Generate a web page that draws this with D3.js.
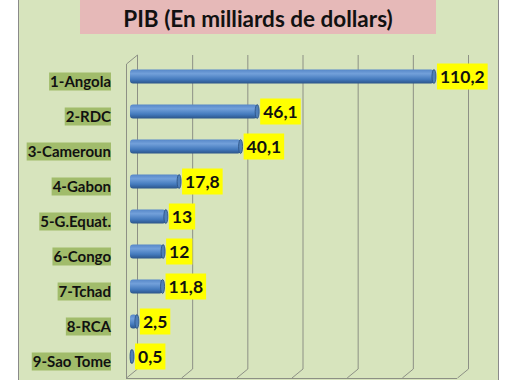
<!DOCTYPE html>
<html>
<head>
    <title>PIB CEMAC</title>
    <script src="https://cdnjs.cloudflare.com/ajax/libs/d3/7.8.5/d3.min.js"></script>
    <style>
        body { margin: 0; background: white; }
        svg { display: block; }
        text { font-family: Lato, "Open Sans", sans-serif; font-weight: bold; }
    </style>
</head>
<body>
    <svg id="chart"></svg>

    <script>
        const width = 514;
        const height = 380;

        // data
        const countries = ["1-Angola", "2-RDC", "3-Cameroun", "4-Gabon", "5-G.Equat.",
                           "6-Congo", "7-Tchad", "8-RCA", "9-Sao Tome"];
        const pib = [110.2, 46.1, 40.1, 17.8, 13, 12, 11.8, 2.5, 0.5];
        const pibLabels = ["110,2", "46,1", "40,1", "17,8", "13", "12", "11,8", "2,5", "0,5"];
        const gridTicks = [0, 20, 40, 60, 80, 100, 120];
        const title = "PIB (En milliards de dollars)";

        const svg = d3.select("#chart")
            .attr("width", width)
            .attr("height", height);

        // chart area
        svg.append("rect")
            .attr("x", 18.5).attr("y", -5)
            .attr("width", 480).attr("height", 400)
            .attr("fill", "#d7e4bd")
            .attr("stroke", "#8a8a8a");

        // title box
        svg.append("rect")
            .attr("x", 80).attr("y", 0)
            .attr("width", 356).attr("height", 34)
            .attr("fill", "#e6b9b8");
        svg.append("text")
            .attr("x", 258).attr("y", 27)
            .attr("text-anchor", "middle")
            .attr("font-size", 22.5)
            .attr("fill", "#111")
            .text(title);

        // 3d depth offset (back wall -> front)
        const dx = -11, dy = 9;
        const wallTop = 55, wallBottom = 369;

        const xBack = d3.scaleLinear().domain([0, 120]).range([137, 468]);
        const xBar = d3.scaleLinear().domain([0, 120]).range([130, 461]);
        const y = d3.scaleBand().domain(countries).range([64, 379]);

        const grid = svg.append("g")
            .attr("stroke", "#8d9085")
            .attr("fill", "none");

        grid.selectAll(".g")
            .data(gridTicks)
            .join("line")
            .attr("x1", d => xBack(d) + 0.5).attr("x2", d => xBack(d) + 0.5)
            .attr("y1", wallTop).attr("y2", wallBottom);

        grid.selectAll(".d")
            .data(gridTicks)
            .join("line")
            .attr("x1", d => xBack(d) + 0.5).attr("y1", wallBottom)
            .attr("x2", d => xBack(d) + dx + 0.5).attr("y2", wallBottom + dy);

        // floor front edge and left side wall
        grid.append("line")
            .attr("x1", xBack(0) + dx).attr("x2", xBack(120) + dx)
            .attr("y1", wallBottom + dy + 0.5).attr("y2", wallBottom + dy + 0.5);
        grid.append("path")
            .attr("d", `M${xBack(0) + 0.5},${wallTop} L${xBack(0) + dx + 0.5},${wallTop + dy} L${xBack(0) + dx + 0.5},${wallBottom + dy}`);

        // bar gradient
        const defs = svg.append("defs");
        const grad = defs.append("linearGradient")
            .attr("id", "barGrad")
            .attr("x1", 0).attr("y1", 0).attr("x2", 0).attr("y2", 1);
        grad.append("stop").attr("offset", "0%").attr("stop-color", "#5687c8");
        grad.append("stop").attr("offset", "30%").attr("stop-color", "#72a0da");
        grad.append("stop").attr("offset", "70%").attr("stop-color", "#447abd");
        grad.append("stop").attr("offset", "100%").attr("stop-color", "#2b5489");

        const barH = 14;
        const barY = d => y(d) + y.bandwidth() / 2 - 5 - barH / 2;

        const bars = svg.append("g");
        bars.selectAll("rect")
            .data(countries)
            .join("rect")
            .attr("x", xBar(0))
            .attr("y", d => barY(d))
            .attr("width", (d, i) => Math.max(xBar(pib[i]) - xBar(0), 3))
            .attr("height", barH)
            .attr("rx", 3)
            .attr("fill", "url(#barGrad)");

        bars.selectAll("ellipse")
            .data(countries)
            .join("ellipse")
            .attr("cx", (d, i) => Math.max(xBar(pib[i]), xBar(0) + 2))
            .attr("cy", d => barY(d) + barH / 2)
            .attr("rx", 2)
            .attr("ry", barH / 2)
            .attr("fill", "#4f7fb9")
            .attr("stroke", "#2a4f80")
            .attr("stroke-width", 0.8);

        // value labels
        const vals = svg.append("g");
        vals.selectAll("g")
            .data(countries)
            .join("g")
            .each(function (d, i) {
                const g = d3.select(this);
                const t = g.append("text")
                    .attr("x", Math.max(xBar(pib[i]), xBar(0) + 2) + 6)
                    .attr("y", barY(d) + barH / 2 + 6)
                    .attr("font-size", 17.5)
                    .attr("fill", "#111")
                    .text(pibLabels[i]);
                const w = t.node().getComputedTextLength();
                g.insert("rect", "text")
                    .attr("x", Math.max(xBar(pib[i]), xBar(0) + 2) + 3)
                    .attr("y", barY(d) + barH / 2 - 13)
                    .attr("width", w + 6)
                    .attr("height", 26)
                    .attr("fill", "#ffff00");
            });

        // category labels
        const cats = svg.append("g");
        cats.selectAll("g")
            .data(countries)
            .join("g")
            .each(function (d) {
                const g = d3.select(this);
                const cy = y(d) + y.bandwidth() / 2;
                const t = g.append("text")
                    .attr("x", 111)
                    .attr("y", cy + 5.5)
                    .attr("text-anchor", "end")
                    .attr("font-size", 15)
                    .attr("fill", "#111")
                    .text(d);
                const w = t.node().getComputedTextLength();
                g.insert("rect", "text")
                    .attr("x", 111 - w - 1)
                    .attr("y", cy - 9)
                    .attr("width", w + 1)
                    .attr("height", 18)
                    .attr("fill", "#a1bc6b");
            });
    </script>
</body>
</html>
